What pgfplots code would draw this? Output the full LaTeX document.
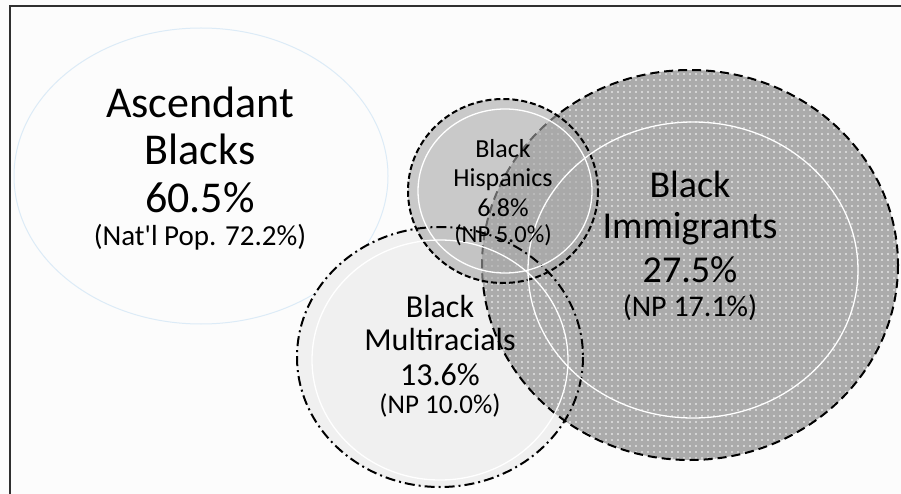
\documentclass[border=0pt]{standalone}
\usepackage{pgfplots}
\pgfplotsset{compat=1.18}
\usepackage{fontspec}
\setmainfont{Carlito}
\newfontfamily\nomap{Carlito}
\usetikzlibrary{patterns}

\pgfdeclarepatternformonly{wdots}{\pgfqpoint{-1pt}{-1pt}}{\pgfqpoint{7pt}{7pt}}{\pgfqpoint{6pt}{6pt}}%
  {\pgfpathcircle{\pgfqpoint{0pt}{0pt}}{0.9pt}\pgfusepath{fill}}

\definecolor{ablue}{HTML}{DCEBF7}
\definecolor{frame}{HTML}{303030}
\definecolor{bg}{HTML}{FCFCFC}

\newcommand{\fs}[1]{\fontsize{#1}{#1}\selectfont}

\begin{document}
\begin{tikzpicture}
\begin{axis}[
    scale only axis,
    width=901pt, height=494pt,
    xmin=0, xmax=901, ymin=0, ymax=494,
    y dir=reverse,
    hide axis,
    clip=true,
]
% background
\fill[bg] (axis cs:0,0) rectangle (axis cs:901,494);

% frame (left and top)
\draw[frame, line width=1.6pt] (axis cs:10,494) -- (axis cs:10,6) -- (axis cs:901,6);

% Ascendant Blacks
\draw[ablue, line width=1pt] (axis cs:201,176) ellipse [x radius=187, y radius=148];

% Multiracials fill
\fill[black!6] (axis cs:440,357) ellipse [x radius=143, y radius=130];

% Immigrants fill + pattern + border
\fill[black!33] (axis cs:690,265) ellipse [x radius=208, y radius=195];
\fill[pattern=wdots, pattern color=white] (axis cs:690,265) ellipse [x radius=208, y radius=195];
\draw[black, line width=2pt, dash pattern=on 9pt off 5pt] (axis cs:690,265) ellipse [x radius=208, y radius=195];

% Hispanics semi-transparent fill
\fill[black!34, fill opacity=0.6] (axis cs:503,191) ellipse [x radius=95, y radius=92];

% borders on top
\draw[black, line width=2pt, dash pattern=on 10pt off 4pt on 2pt off 4pt] (axis cs:440,357) ellipse [x radius=143, y radius=130];
\draw[black, line width=2pt, dash pattern=on 6pt off 3pt] (axis cs:503,191) ellipse [x radius=95, y radius=92];

% inner white rings
\draw[white, line width=1.3pt] (axis cs:440,360) ellipse [x radius=128, y radius=120];
\draw[white, line width=1.3pt] (axis cs:505,191) ellipse [x radius=87, y radius=82];
\draw[white, line width=1.3pt] (axis cs:693,270) ellipse [x radius=165, y radius=148];

% labels
\node[anchor=base] at (axis cs:200,118) {\fs{44}Ascendant};
\node[anchor=base] at (axis cs:200,165) {\fs{44}Blacks};
\node[anchor=base] at (axis cs:200,213) {\fs{44}60.5\%};
\node[anchor=base] at (axis cs:200,245) {\fs{29}(Nat{\nomap '}l Pop. 72.2\%)};

\node[anchor=base] at (axis cs:503,158) {\fs{26}Black};
\node[anchor=base] at (axis cs:503,187) {\fs{26}Hispanics};
\node[anchor=base] at (axis cs:503,217) {\fs{26}6.8\%};
\node[anchor=base] at (axis cs:503,242) {\fs{24.5}(NP 5.0\%)};

\node[anchor=base] at (axis cs:690,198) {\fs{38}Black};
\node[anchor=base] at (axis cs:690,239) {\fs{38}Immigrants};
\node[anchor=base] at (axis cs:690,282) {\fs{38}27.5\%};
\node[anchor=base] at (axis cs:690,316) {\fs{30}(NP 17.1\%)};

\node[anchor=base] at (axis cs:440,317) {\fs{32}Black};
\node[anchor=base] at (axis cs:440,350) {\fs{32}Multiracials};
\node[anchor=base] at (axis cs:440,385) {\fs{32}13.6\%};
\node[anchor=base] at (axis cs:440,413) {\fs{27}(NP 10.0\%)};
\end{axis}
\end{tikzpicture}
\end{document}
